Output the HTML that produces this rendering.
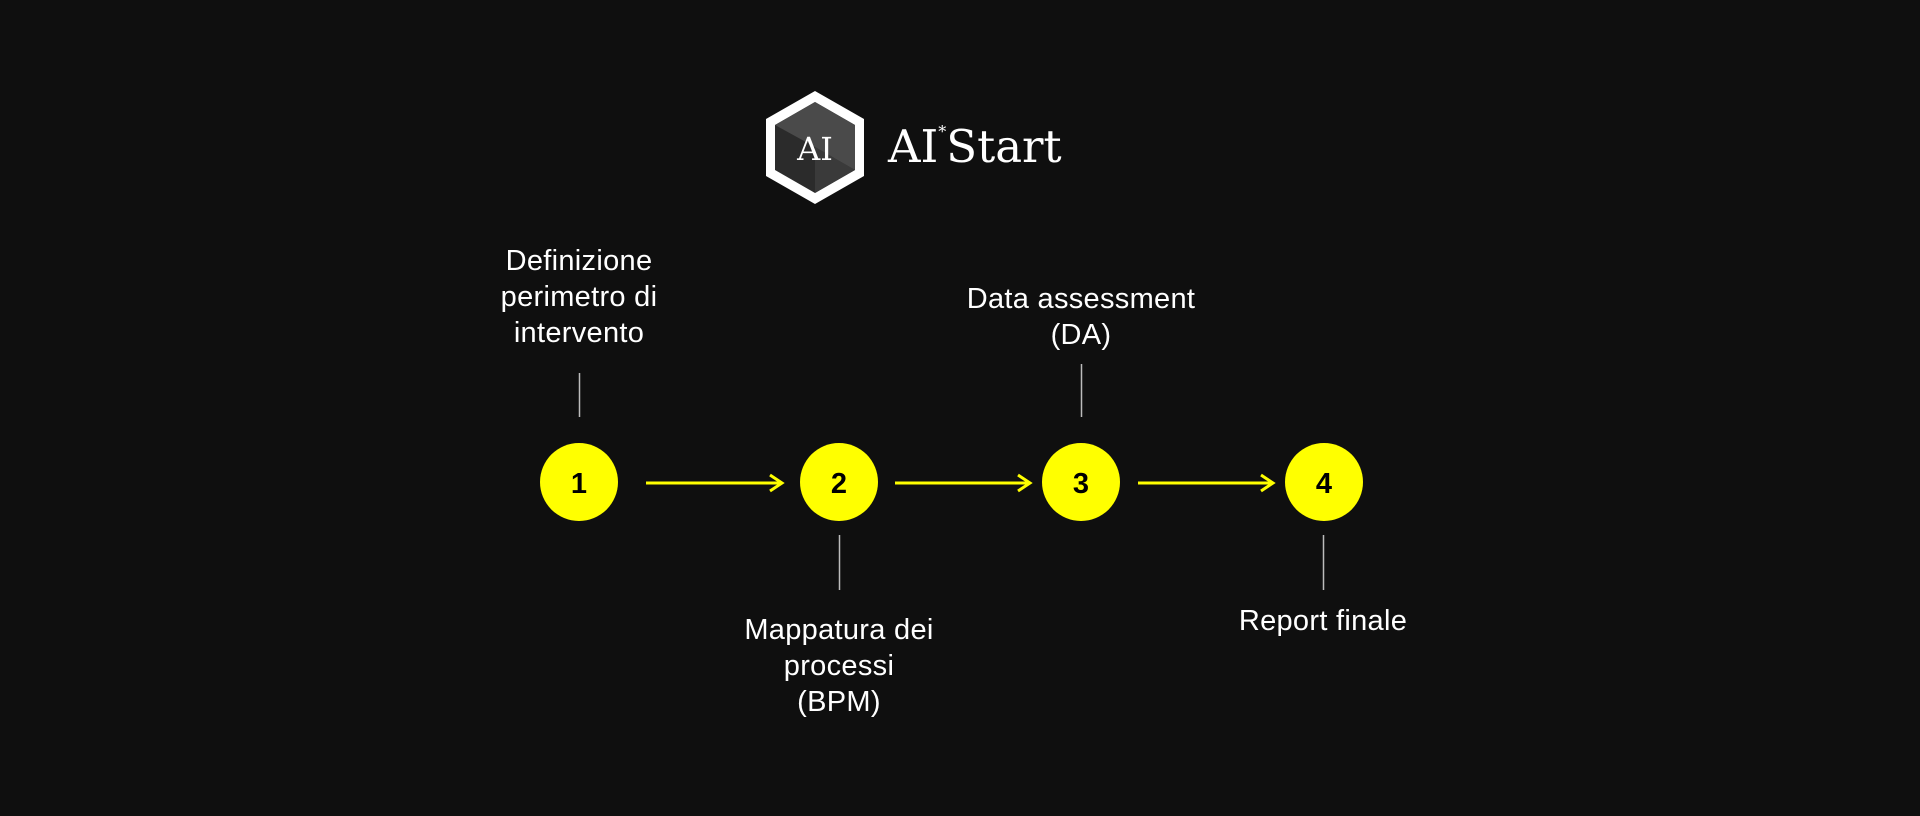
<!DOCTYPE html>
<html><head><meta charset="utf-8"><style>
html,body{margin:0;padding:0;background:#0f0f0f;}
body{width:1920px;height:816px;position:relative;overflow:hidden;font-family:"Liberation Sans",sans-serif;color:#fff;}
.t{position:absolute;width:360px;text-align:center;font-size:29px;line-height:36px;letter-spacing:0.3px;}
.logo{position:absolute;left:888px;top:120px;font-family:"DejaVu Serif",serif;font-size:45px;color:#fff;white-space:nowrap;}
</style></head><body>
<svg width="1920" height="816" style="position:absolute;left:0;top:0">
  <g>
    <polygon points="815,91 864,119 864,176 815,204 766,176 766,119" fill="#fff"/>
    <polygon points="815,102 855,125 855,170 815,193 775,170 775,125" fill="#2b2b2b"/>
    <polygon points="815,102 855,125 855,170 815,147 775,125" fill="#4a4a4a"/>
    <polygon points="815,147 855,170 815,193" fill="#3a3a3a"/>
    <text x="815" y="160" text-anchor="middle" font-family="DejaVu Serif, serif" font-size="32" fill="#fff">AI</text>
  </g>
  <g fill="#ffff00">
    <circle cx="579" cy="482" r="39"/>
    <circle cx="839" cy="482" r="39"/>
    <circle cx="1081" cy="482" r="39"/>
    <circle cx="1324" cy="482" r="39"/>
  </g>
  <g font-family="Liberation Sans, sans-serif" font-size="29" font-weight="bold" fill="#000" text-anchor="middle">
    <text x="579" y="493">1</text>
    <text x="839" y="493">2</text>
    <text x="1081" y="493">3</text>
    <text x="1324" y="493">4</text>
  </g>
  <g stroke="#ffff00" stroke-width="3" fill="none">
    <line x1="646" y1="483" x2="782" y2="483"/><polyline points="770,475 782,483 770,491"/>
    <line x1="895" y1="483" x2="1030" y2="483"/><polyline points="1018,475 1030,483 1018,491"/>
    <line x1="1138" y1="483" x2="1273" y2="483"/><polyline points="1261,475 1273,483 1261,491"/>
  </g>
  <g stroke="#bbb" stroke-width="1.5">
    <line x1="579.5" y1="373" x2="579.5" y2="417"/>
    <line x1="1081.5" y1="364" x2="1081.5" y2="417"/>
    <line x1="839.5" y1="535" x2="839.5" y2="590"/>
    <line x1="1323.5" y1="535" x2="1323.5" y2="590"/>
  </g>
</svg>
<div class="logo">AI<span style="font-size:16px;vertical-align:top;position:relative;top:2px">*</span>Start</div>
<div class="t" style="left:399px;top:243px">Definizione<br>perimetro di<br>intervento</div>
<div class="t" style="left:901px;top:281px">Data assessment<br>(DA)</div>
<div class="t" style="left:659px;top:612px">Mappatura dei<br>processi<br>(BPM)</div>
<div class="t" style="left:1143px;top:603px">Report finale</div>
</body></html>
